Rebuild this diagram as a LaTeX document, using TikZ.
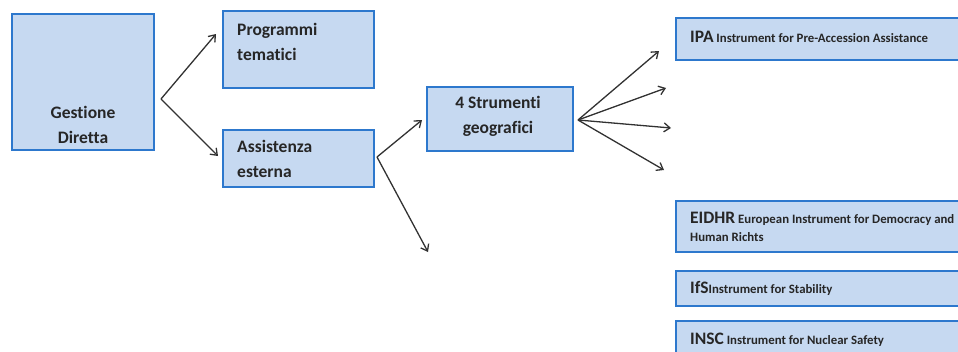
\documentclass[tikz,border=0pt]{standalone}
\usepackage{fontspec}
\setmainfont{Carlito}[Ligatures={NoCommon}]
\usetikzlibrary{arrows.meta,positioning}

\definecolor{boxfill}{RGB}{198,217,241}
\definecolor{boxline}{RGB}{45,120,205}
\definecolor{arrowgray}{RGB}{50,50,50}

\newcommand{\bigtxt}{\fontsize{17.5}{25}\selectfont\bfseries}
\newcommand{\smalltxt}{\fontsize{12.8}{18}\selectfont\bfseries}

\begin{document}
\begin{tikzpicture}[
    x=1pt, y=-1pt,
    box/.style={rectangle, draw=boxline, line width=2.8pt, fill=boxfill, inner sep=0pt},
    lbl/.style={inner sep=0pt, align=left, font=\bigtxt, text=black!85},
    instr/.style={inner sep=0pt, align=left, font=\smalltxt, text=black!85},
    arr/.style={-{Straight Barb[length=6pt,width=9pt]}, line width=1.3pt, draw=arrowgray}
]
\path[use as bounding box, clip] (0,0) rectangle (958,351);

% gestione e programmi
\node[box, minimum width=142pt, minimum height=136pt] (gestione) at (83,82) {};
\node[box, minimum width=151pt, minimum height=77pt] (programmi) at (298.5,49.5) {};
\node[box, minimum width=151pt, minimum height=57pt] (assistenza) at (298.5,158.5) {};
\node[box, minimum width=146pt, minimum height=64pt] (strumenti) at (500,119) {};

% strumenti (tagliati a destra)
\node[box, minimum width=304pt, minimum height=42pt] (ipa) at (828,39) {};
\node[box, minimum width=304pt, minimum height=51pt] (eidhr) at (828,226.5) {};
\node[box, minimum width=304pt, minimum height=35pt] (ifs) at (828,288.5) {};
\node[box, minimum width=304pt, minimum height=44pt] (insc) at (828,343) {};

\node[lbl, align=center, anchor=north] (gestione-t) at (83,106) {Gestione\\Diretta};
\node[lbl, anchor=north west] (programmi-t) at (237,23) {Programmi\\tematici};
\node[lbl, anchor=north west] (assistenza-t) at (237,140) {Assistenza\\esterna};
\node[lbl, align=center, anchor=north] (strumenti-t) at (498,96) {4 Strumenti\\geografici};

\node[instr, anchor=base west] (ipa-t) at (690,42) {{\bigtxt IPA} Instrument for Pre-Accession Assistance};
\node[instr, anchor=north west] (eidhr-t) at (690,212) {{\bigtxt EIDHR} European Instrument for Democracy and\\Human Richts};
\node[instr, anchor=base west] (ifs-t) at (690,293) {{\bigtxt IfS}Instrument for Stability};
\node[instr, anchor=base west] (insc-t) at (690,344) {{\bigtxt INSC} Instrument for Nuclear Safety};

% frecce
\coordinate (g-fork) at (161,99);
\coordinate (g-up) at (216,34);
\coordinate (g-down) at (218,156);
\coordinate (a-fork) at (377,157);
\coordinate (a-up) at (422,120);
\coordinate (a-down) at (428,252);
\coordinate (s-fork) at (578,120);
\coordinate (s-one) at (659,51);
\coordinate (s-two) at (666,88);
\coordinate (s-three) at (671,128);
\coordinate (s-four) at (664,170);

\draw[arr] (g-fork) -- (g-up);
\draw[arr] (g-fork) -- (g-down);
\draw[arr] (a-fork) -- (a-up);
\draw[arr] (a-fork) -- (a-down);
\draw[arr] (s-fork) -- (s-one);
\draw[arr] (s-fork) -- (s-two);
\draw[arr] (s-fork) -- (s-three);
\draw[arr] (s-fork) -- (s-four);
\end{tikzpicture}
\end{document}
